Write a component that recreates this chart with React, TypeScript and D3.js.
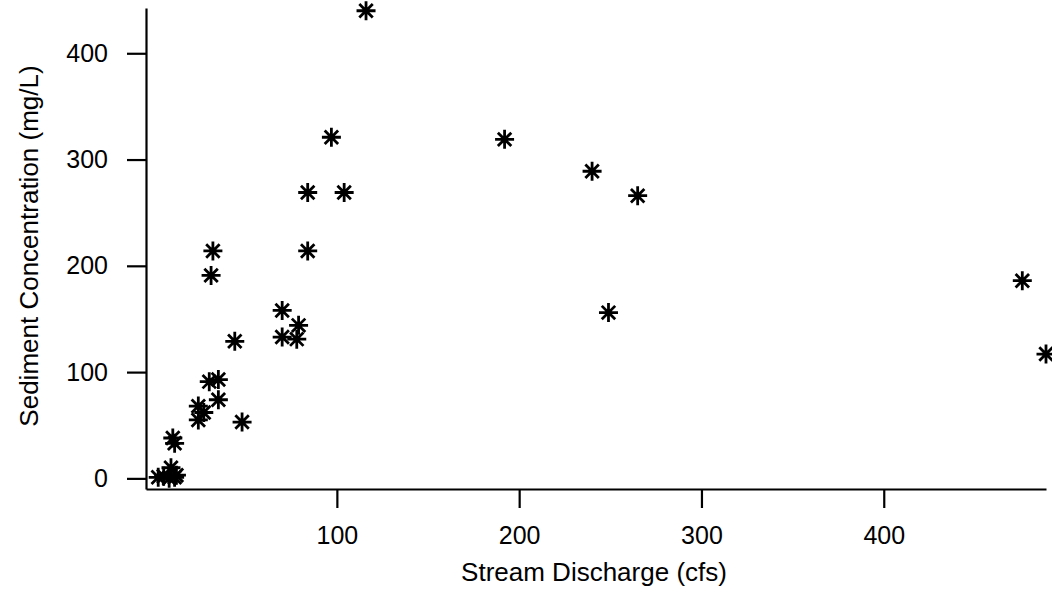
import React, { useEffect, useRef } from 'react';
import * as d3 from 'd3';

// Stream discharge (cfs) and sediment concentration (mg/L)
const discharge = [
  2, 5, 8, 9, 11, 12, 10, 11, 24, 27, 24, 30, 35, 35, 48, 44, 31, 32,
  70, 79, 70, 78, 84, 84, 104, 97, 116, 192, 240, 265, 249, 476, 489,
];
const sediment = [
  1, 2, 0, 10, 1, 3, 38, 33, 68, 62, 55, 91, 93, 74, 53, 129, 191, 214,
  158, 144, 133, 131, 214, 269, 269, 321, 440, 319, 289, 266, 156, 186, 117,
];
const xTicks = [100, 200, 300, 400];
const yTicks = [0, 100, 200, 300, 400];

const width = 1052;
const height = 598;
const font = '"Liberation Sans", Arial, sans-serif';

export default function App() {
  const ref = useRef<SVGSVGElement>(null);

  useEffect(() => {
    const svg = d3.select(ref.current);
    svg.selectAll('*').remove();

    const x = d3.scaleLinear().domain([-4.7, 489]).range([146, 1046]);
    const y = d3.scaleLinear().domain([-10, 442.6]).range([489, 8]);

    const xAxis = svg
      .append('g')
      .attr('transform', 'translate(0,489)')
      .call(d3.axisBottom(x).tickValues(xTicks).tickSize(19).tickSizeOuter(0).tickPadding(18));
    const yAxis = svg
      .append('g')
      .attr('transform', 'translate(146,0)')
      .call(d3.axisLeft(y).tickValues(yTicks).tickSize(19).tickSizeOuter(0).tickPadding(19));

    [xAxis, yAxis].forEach((g) => {
      g.selectAll('path, line').attr('stroke', '#000').attr('stroke-width', 2.2);
      g.selectAll('text')
        .attr('fill', '#000')
        .style('font-family', font)
        .style('font-size', '25px');
    });

    svg
      .append('text')
      .attr('x', 594)
      .attr('y', 581)
      .attr('text-anchor', 'middle')
      .style('font-family', font)
      .style('font-size', '26px')
      .text('Stream Discharge (cfs)');

    svg
      .append('text')
      .attr('transform', 'translate(38,246) rotate(-90)')
      .attr('text-anchor', 'middle')
      .style('font-family', font)
      .style('font-size', '26px')
      .text('Sediment Concentration (mg/L)');

    const r = 9.5;
    const star = [0, 45, 90, 135]
      .map((a) => {
        const dx = r * Math.cos((a * Math.PI) / 180);
        const dy = r * Math.sin((a * Math.PI) / 180);
        return `M${-dx},${-dy}L${dx},${dy}`;
      })
      .join('');

    svg
      .append('g')
      .selectAll('path')
      .data(discharge.map((d, i) => [d, sediment[i]]))
      .enter()
      .append('path')
      .attr('transform', (d) => `translate(${x(d[0])},${y(d[1])})`)
      .attr('d', star)
      .attr('fill', 'none')
      .attr('stroke', '#000')
      .attr('stroke-width', 2.8);
  }, []);

  return (
    <svg
      ref={ref}
      width={width}
      height={height}
      style={{ position: 'absolute', left: 0, top: 0, background: '#fff' }}
    />
  );
}
